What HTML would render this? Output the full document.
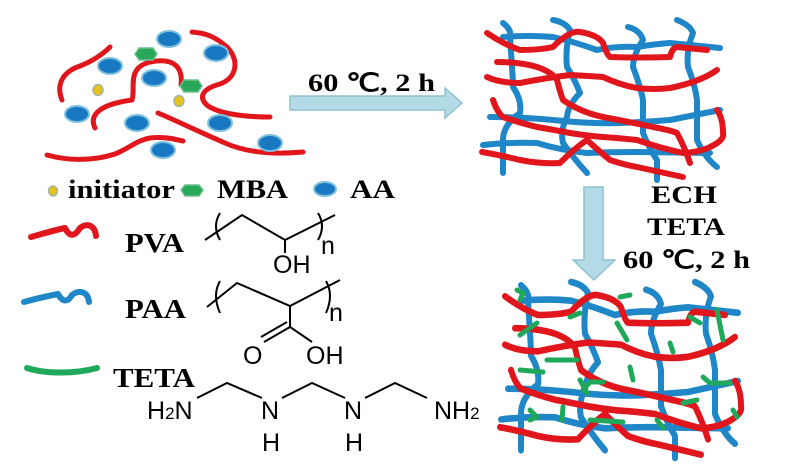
<!DOCTYPE html>
<html><head><meta charset="utf-8"><style>
html,body{margin:0;padding:0;background:#fff;width:788px;height:465px;overflow:hidden}
svg{display:block}
.t{font-family:"Liberation Serif",serif;font-weight:bold;fill:#000}
.c{font-family:"Liberation Sans",sans-serif;fill:#000;font-size:25px}
</style></head><body>
<svg width="788" height="465" viewBox="0 0 788 465" xmlns="http://www.w3.org/2000/svg">
<defs>
<g id="net" fill="none" stroke-linecap="round" stroke-linejoin="round" stroke-width="6">
 <g stroke="#1f86c8">
  <path d="M503,23 Q512,30 510,37 L512,67 Q513,80 513,87 Q522,100 520,113 Q503,125 503,140 L503,173"/>
  <path d="M553,20 Q565,22 570,30 Q565,50 567,67 Q575,80 580,93 Q568,105 567,117 Q560,130 563,143 Q575,160 587,173"/>
  <path d="M628,27 Q640,30 643,40 Q633,55 633,67 Q640,85 643,100 L643,133 Q650,150 657,160 L657,180"/>
  <path d="M677,20 Q690,25 693,33 Q686,50 688,67 Q695,85 697,100 L697,140 Q705,158 717,167"/>
  <path d="M503,37 Q530,35 553,37 Q575,42 597,50 Q615,46 637,47 Q655,44 670,43 L720,48"/>
  <path d="M490,117 Q520,117 553,120 Q590,124 620,123 Q645,122 670,120 L720,110"/>
  <path d="M483,145 Q510,142 537,143 Q560,150 587,153 Q610,152 637,152 L710,153"/>
 </g>
 <g stroke="#e0161c">
  <path d="M487,33 Q505,45 520,50 Q540,50 553,47 Q570,30 580,32 Q598,35 603,43 Q607,55 610,57 Q640,58 670,57 Q672,48 677,47 L707,50"/>
  <path d="M497,62 Q520,62 537,67 Q552,72 557,80 Q560,92 563,100 Q580,112 603,117 Q630,122 653,127 Q670,130 677,133 Q685,148 690,163"/>
  <path d="M487,77 Q500,83 520,83 Q545,78 570,75 Q590,76 603,77 Q620,85 637,88 Q655,90 670,88 Q700,82 717,70"/>
  <path d="M493,100 Q497,112 503,117 Q520,123 537,127 Q555,130 570,133 Q590,136 603,137 Q620,138 637,140 Q660,148 683,153 Q700,152 710,147 Q725,140 723,133 Q723,118 717,110"/>
  <path d="M482,152 Q500,155 520,160 Q540,164 560,163 Q575,148 587,140 Q600,152 610,160 Q625,165 637,167 L683,177"/>
 </g>
</g>
</defs>

<!-- top-left mixture -->
<g fill="none" stroke="#e0161c" stroke-width="5" stroke-linecap="round" stroke-linejoin="round">
 <path d="M62,100 C56,85 62,72 80,66 C95,60 105,52 110,47"/>
 <path d="M192,32 C205,33 215,36 228,48 C240,62 236,78 220,84 C205,88 196,96 208,106 C222,115 250,117 270,117"/>
 <path d="M95,128 C88,114 102,104 132,100 C136,88 126,68 150,62 C175,57 183,68 181,85"/>
 <path d="M47,155 C65,160 90,162 115,154 C130,148 137,140 150,138 C165,136 178,140 183,141"/>
 <path d="M158,113 C175,120 195,130 225,143 C245,152 270,155 303,152"/>
</g>
<g fill="#1879c2" stroke="#7fc0de" stroke-width="2">
 <ellipse cx="169" cy="39" rx="12" ry="8"/><ellipse cx="216" cy="53" rx="12" ry="8"/>
 <ellipse cx="110" cy="66" rx="12" ry="8"/><ellipse cx="154" cy="78" rx="12" ry="8"/>
 <ellipse cx="77" cy="114" rx="12" ry="8"/><ellipse cx="137" cy="123" rx="12" ry="8"/>
 <ellipse cx="220" cy="123" rx="12" ry="8"/><ellipse cx="270" cy="143" rx="12" ry="8"/>
 <ellipse cx="163" cy="150" rx="12" ry="8"/>
 <ellipse cx="325" cy="189" rx="11" ry="7"/>
</g>
<g fill="#2aa85a" stroke="#6cc090" stroke-width="1.5">
 <path d="M139,48 L153,48 L157,54 L153,60 L139,60 L135,54Z"/>
 <path d="M184,80 L198,80 L202,86 L198,92 L184,92 L180,86Z"/>
 <path d="M185,185 L199,185 L203,190 L199,196 L185,196 L181,190Z"/>
</g>
<g fill="#e5c21c" stroke="#9fb6a8" stroke-width="1.5">
 <ellipse cx="98" cy="90" rx="5" ry="5.5"/><ellipse cx="179" cy="101" rx="5" ry="5.5"/>
 <ellipse cx="53" cy="191" rx="4.5" ry="5"/>
</g>

<!-- right arrow -->
<path d="M290,96 L445,96 L445,88 L462,103 L445,118 L445,110 L290,110Z" fill="#b3dbe6" stroke="#8fc2cf" stroke-width="1.5"/>
<text class="t" x="308" y="91" font-size="25" textLength="127" lengthAdjust="spacingAndGlyphs">60 ℃, 2 h</text>

<!-- legend -->
<text class="t" x="68" y="198" font-size="26" textLength="107" lengthAdjust="spacingAndGlyphs">initiator</text>
<text class="t" x="217" y="198" font-size="26" textLength="71" lengthAdjust="spacingAndGlyphs">MBA</text>
<text class="t" x="350" y="198" font-size="26" textLength="45" lengthAdjust="spacingAndGlyphs">AA</text>

<!-- squiggles -->
<g fill="none" stroke-width="6" stroke-linecap="round" stroke-linejoin="round">
 <path d="M31,237 C45,233 55,230 65,228 C70,238 75,236 80,228 C88,222 95,226 96,236" stroke="#e0161c"/>
 <path d="M24,302 C38,298 48,296 58,294 C63,303 68,302 72,295 C80,289 88,292 89,302" stroke="#1f86c8"/>
 <path d="M27,368 C45,374 75,374 97,368" stroke="#1fa85a"/>
</g>
<text class="t" x="125" y="252" font-size="27" textLength="59" lengthAdjust="spacingAndGlyphs">PVA</text>
<text class="t" x="125" y="318" font-size="27" textLength="61" lengthAdjust="spacingAndGlyphs">PAA</text>
<text class="t" x="113" y="387" font-size="27" textLength="82" lengthAdjust="spacingAndGlyphs">TETA</text>

<!-- structures -->
<g fill="none" stroke="#000" stroke-width="2">
 <path d="M205,240 L242,215 L285,240 L335,215"/>
 <path d="M220,213 Q212,226 220,240"/>
 <path d="M318,213 Q326,226 318,240"/>
 <path d="M285,240 L285,253"/>
 <path d="M207,307 L237,283 L290,306 L340,280"/>
 <path d="M220,281 Q212,295 220,313"/>
 <path d="M326,281 Q334,295 326,313"/>
 <path d="M290,306 L290,327 L312,342"/>
 <path d="M290,327 L264,342 M287,322 L261,337"/>
 <path d="M197,398 L227,383 L262,398"/>
 <path d="M282,398 L312,383 L345,398"/>
 <path d="M365,398 L395,383 L427,398"/>
</g>
<text class="c" x="273" y="273">OH</text>
<text class="c" x="321" y="254">n</text>
<text class="c" x="329" y="321">n</text>
<text class="c" x="243" y="364">O</text>
<text class="c" x="306" y="364">OH</text>
<text class="c" x="147" y="419">H<tspan font-size="17">2</tspan>N</text>
<text class="c" x="261" y="419">N</text>
<text class="c" x="344" y="419">N</text>
<text class="c" x="434" y="419">NH<tspan font-size="17">2</tspan></text>
<text class="c" x="262" y="451">H</text>
<text class="c" x="345" y="451">H</text>

<!-- networks -->
<use href="#net"/>
<use href="#net" transform="translate(18,260) scale(1,1.1)"/>
<g fill="none" stroke="#1fa85a" stroke-width="5" stroke-linecap="round" stroke-linejoin="round">
 <path d="M520,335 L537,323"/><path d="M547,360 L577,360"/><path d="M520,370 L543,372"/>
 <path d="M580,380 L587,393"/><path d="M583,390 L590,382 L603,382"/><path d="M630,367 L633,380"/>
 <path d="M670,343 L673,352"/><path d="M690,317 L700,323"/><path d="M717,310 L723,340"/>
 <path d="M703,377 L710,383 L730,383"/><path d="M683,403 L697,400"/><path d="M530,410 L537,417 L530,420"/>
 <path d="M563,407 L562,420"/><path d="M590,420 L623,422"/><path d="M657,420 L663,428"/>
 <path d="M733,410 L737,417"/><path d="M570,317 L580,313"/><path d="M517,290 L523,293 L520,300"/>
 <path d="M620,297 L630,295"/><path d="M617,323 L627,340"/>
</g>

<!-- down arrow -->
<path d="M584,187 L603,187 L603,260 L615,260 L594,280 L573,260 L584,260Z" fill="#b3dbe6" stroke="#8fc2cf" stroke-width="1.5"/>
<text class="t" x="684" y="203" font-size="25" text-anchor="middle" textLength="66" lengthAdjust="spacingAndGlyphs">ECH</text>
<text class="t" x="686" y="235" font-size="25" text-anchor="middle" textLength="78" lengthAdjust="spacingAndGlyphs">TETA</text>
<text class="t" x="623" y="268" font-size="25" textLength="127" lengthAdjust="spacingAndGlyphs">60 ℃, 2 h</text>
</svg>
</body></html>
